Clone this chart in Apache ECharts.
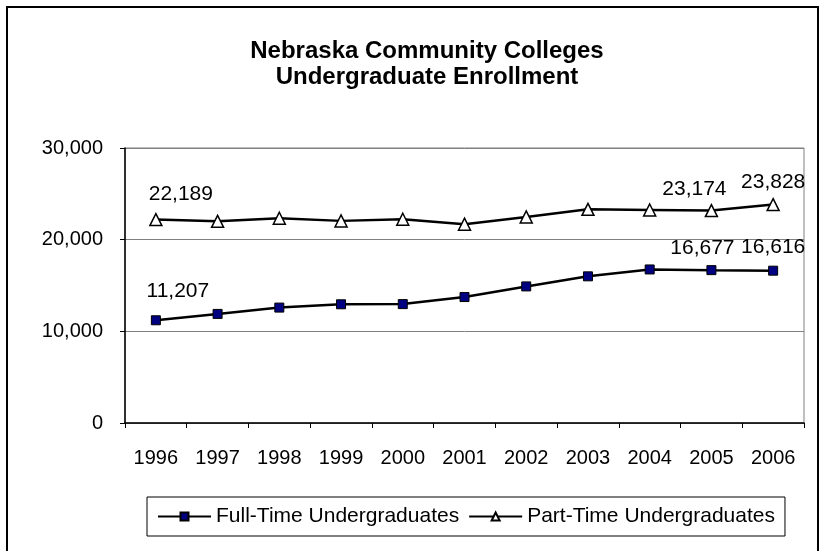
<!DOCTYPE html>
<html><head><meta charset="utf-8">
<script src="https://cdn.jsdelivr.net/npm/echarts@6/dist/echarts.min.js"></script>
<style>html,body{margin:0;padding:0;background:#fff}#c{width:824px;height:551px}</style>
</head><body><div id="c"></div>
<script>
// ---- data ----
const years = ['1996','1997','1998','1999','2000','2001','2002','2003','2004','2005','2006'];
const fullTime = [11207, 11900, 12590, 12950, 12970, 13740, 14900, 16000, 16750, 16677, 16616];
const partTime = [22189, 22000, 22340, 22050, 22230, 21690, 22480, 23310, 23240, 23174, 23828];
const yMin = 0, yMax = 30000, yStep = 10000;
const titleText = 'Nebraska Community Colleges\nUndergraduate Enrollment';
const seriesNames = ['Full-Time Undergraduates', 'Part-Time Undergraduates'];

// label placements (index -> [dx, dy]) — style only
const ftLabelPos = {0: [22, -29], 9: [-9, -22], 10: [0, -23]};
const ptLabelPos = {0: [25, -25], 9: [-17, -21], 10: [0, -22]};

const FONT = "'Liberation Sans', Arial, sans-serif";
const fmt = v => v.toLocaleString('en-US');

function build(values, pos) {
  return values.map((v, i) => {
    if (pos[i]) {
      return {value: v, label: {show: true, position: 'inside', offset: pos[i],
        formatter: p => fmt(p.value), fontSize: 21, fontFamily: FONT, color: '#000'}};
    }
    return v;
  });
}

const chart = echarts.init(document.getElementById('c'), null, {renderer: 'canvas'});
chart.setOption({
  animation: false,
  backgroundColor: '#fff',
  textStyle: {fontFamily: FONT},
  graphic: [{type: 'rect', shape: {x: 7, y: 7, width: 811, height: 560},
    style: {fill: 'none', stroke: '#000', lineWidth: 2}, silent: true}],
  title: {text: titleText, left: 422, top: 33, textAlign: 'center',
    textStyle: {fontSize: 24, fontWeight: 'bold', color: '#000', fontFamily: FONT, lineHeight: 26}},
  legend: {left: 147, top: 497, orient: 'horizontal',
    borderColor: '#000', borderWidth: 1, padding: [9, 10, 9, 10], itemGap: 9,
    itemWidth: 53, itemHeight: 10,
    textStyle: {fontSize: 21, color: '#000', fontFamily: FONT},
    data: seriesNames},
  grid: {left: 125, right: 20, top: 148, bottom: 128, show: true, borderColor: '#808080', borderWidth: 1},
  xAxis: {type: 'category', data: years, boundaryGap: true,
    axisLine: {lineStyle: {color: '#000', width: 1.5}},
    axisTick: {show: true, inside: false, length: 5, interval: 0, lineStyle: {color: '#000'}},
    axisLabel: {fontSize: 20, color: '#000', margin: 25, interval: 0, fontFamily: FONT},
    splitLine: {show: false}},
  yAxis: {type: 'value', min: yMin, max: yMax, interval: yStep,
    axisLine: {show: true, lineStyle: {color: '#000', width: 1.5}},
    axisTick: {show: true, inside: false, length: 5, lineStyle: {color: '#000'}},
    axisLabel: {fontSize: 20, color: '#000', margin: 22, formatter: v => fmt(v), fontFamily: FONT},
    splitLine: {show: true, lineStyle: {color: '#808080', width: 1}}},
  series: [
    {name: seriesNames[0], type: 'line', data: build(fullTime, ftLabelPos),
      symbol: 'rect', symbolSize: 9, showAllSymbol: true,
      lineStyle: {color: '#000', width: 2.5},
      itemStyle: {color: '#000080', borderColor: '#000', borderWidth: 1},
      label: {show: false}},
    {name: seriesNames[1], type: 'line', data: build(partTime, ptLabelPos),
      symbol: 'triangle', symbolSize: 12, showAllSymbol: true,
      lineStyle: {color: '#000', width: 2.5},
      itemStyle: {color: '#fff', borderColor: '#000', borderWidth: 1.5},
      label: {show: false}}
  ]
});
</script>
</body></html>
